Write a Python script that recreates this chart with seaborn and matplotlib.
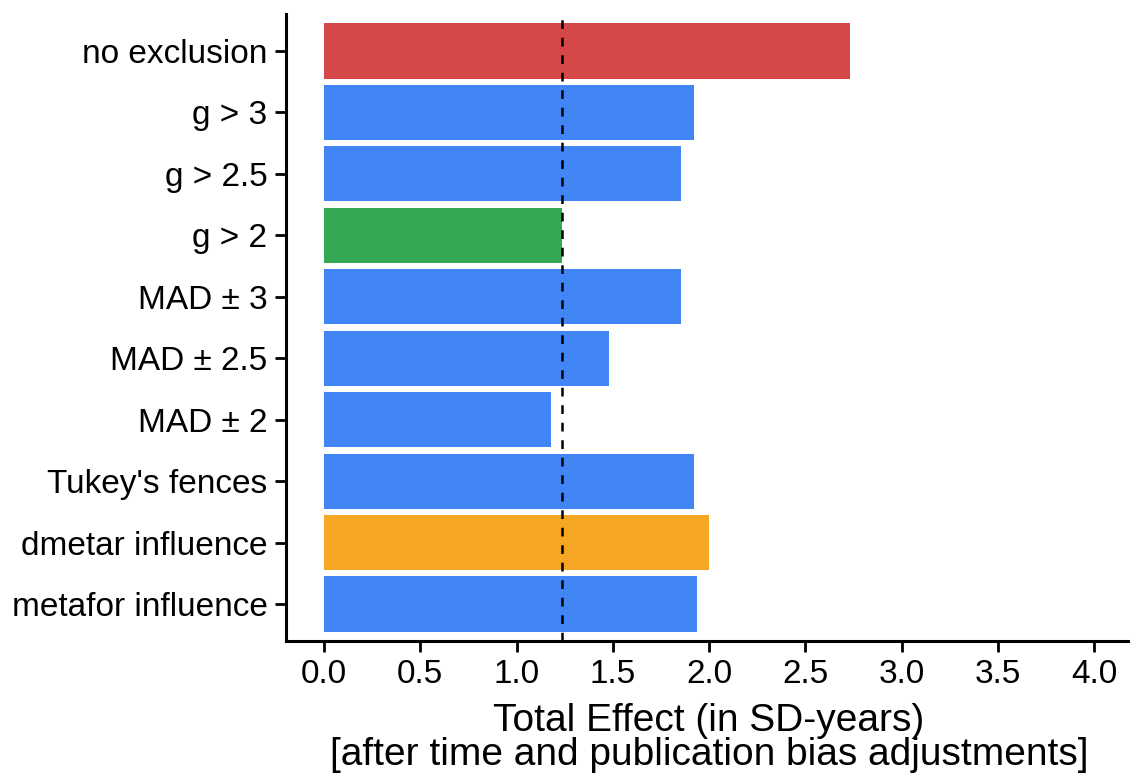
"""Total effect under different outlier-exclusion rules."""

import matplotlib.pyplot as plt
import pandas as pd
import seaborn as sns

sns.set_style("ticks")
plt.rcParams["font.family"] = ["Liberation Sans", "DejaVu Sans"]
plt.rcParams["text.color"] = "black"
plt.rcParams["axes.labelcolor"] = "black"
plt.rcParams["xtick.color"] = "black"
plt.rcParams["ytick.color"] = "black"

categories = [
    "no exclusion",
    "g > 3",
    "g > 2.5",
    "g > 2",
    "MAD ± 3",
    "MAD ± 2.5",
    "MAD ± 2",
    "Tukey's fences",
    "dmetar influence",
    "metafor influence",
]
effects = [2.73, 1.92, 1.855, 1.235, 1.855, 1.48, 1.18, 1.92, 2.00, 1.935]
bar_colors = [
    "#D44848", "#4285F4", "#4285F4", "#34A853", "#4285F4",
    "#4285F4", "#4285F4", "#4285F4", "#F5A623", "#4285F4",
]
reference_effect = 1.235
x_ticks = [0.0, 0.5, 1.0, 1.5, 2.0, 2.5, 3.0, 3.5, 4.0]

df = pd.DataFrame({"rule": categories, "effect": effects})

fig = plt.figure(figsize=(11.3, 7.78), dpi=100)
ax = fig.add_axes([0.2527, 0.1761, 0.7496, 0.8059])

sns.barplot(
    data=df, x="effect", y="rule", hue="rule", order=categories,
    palette=dict(zip(categories, bar_colors)), width=0.9, saturation=1,
    legend=False, linewidth=0, ax=ax,
)
ax.axvline(reference_effect, color="black", linestyle=(0, (3.5, 3.5)), linewidth=1.8, zorder=5)

ax.set_xlim(-0.2, 4.2)
ax.set_ylim(9.6, -0.6)
ax.set_xticks(x_ticks)
ax.set_xticklabels([f"{t:.1f}" for t in x_ticks])
ax.set_ylabel("")
ax.set_xlabel("Total Effect (in SD-years)\n[after time and publication bias adjustments]",
              fontsize=28, linespacing=0.95, labelpad=9)
ax.tick_params(axis="both", labelsize=24, length=8, width=2.0, pad=5)
for side in ["left", "bottom"]:
    ax.spines[side].set_linewidth(2.2)
    ax.spines[side].set_color("black")
sns.despine(ax=ax)

fig.savefig("out.png", dpi=100)
